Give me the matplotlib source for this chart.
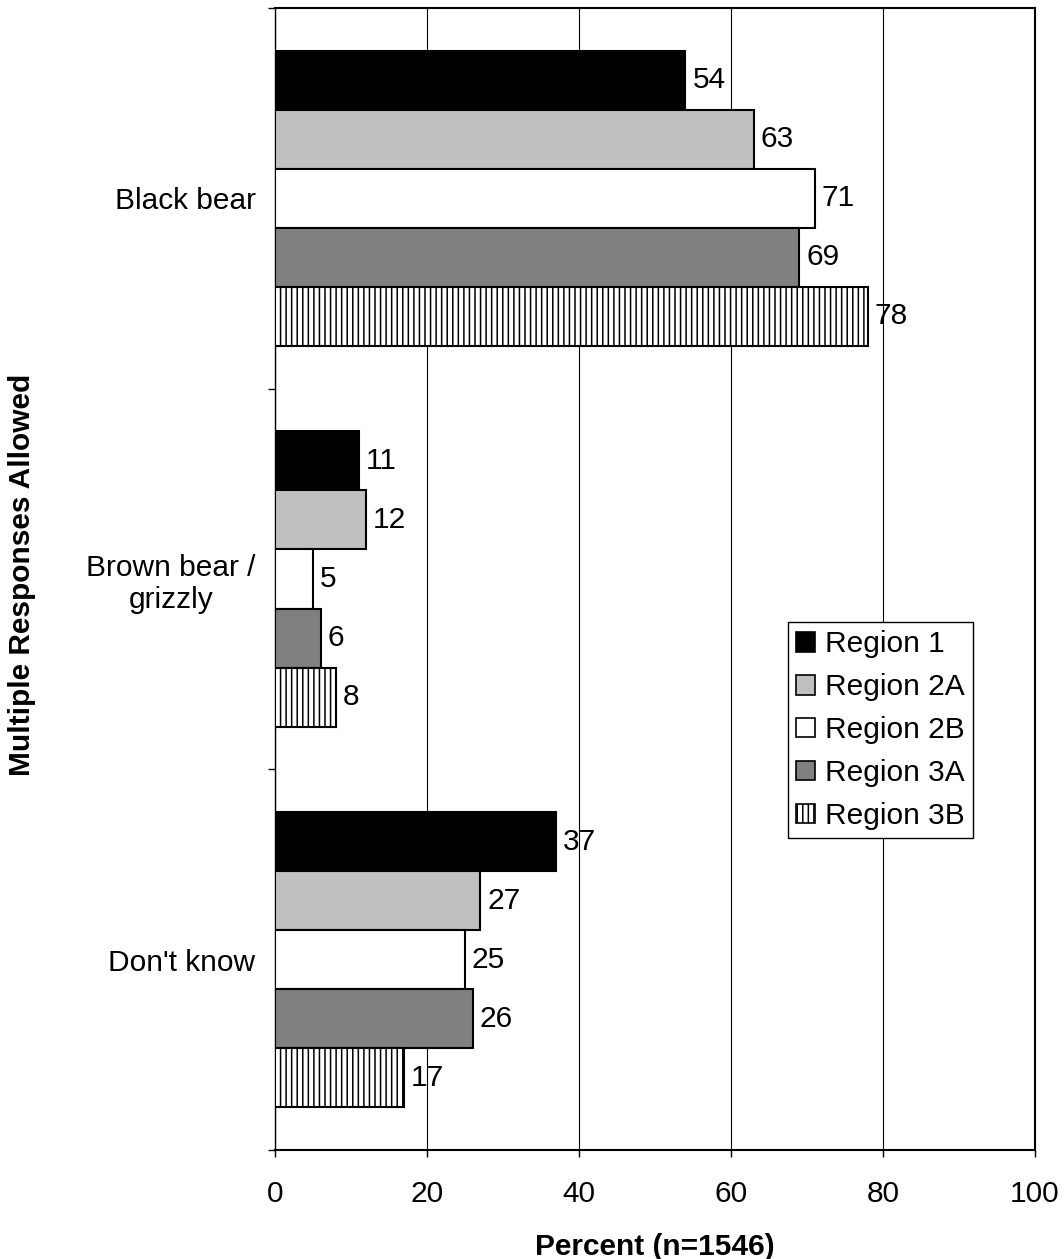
import matplotlib
matplotlib.use("Agg")
import matplotlib.pyplot as plt
from matplotlib.patches import Patch
import numpy as np

plt.rcParams['font.family'] = ['Liberation Sans', 'DejaVu Sans']
plt.rcParams['hatch.linewidth'] = 1.1

categories = ["Black bear", "Brown bear /\ngrizzly", "Don't know"]
series_names = ["Region 1", "Region 2A", "Region 2B", "Region 3A", "Region 3B"]
values = {
    "Region 1":  [54, 11, 37],
    "Region 2A": [63, 12, 27],
    "Region 2B": [71, 5, 25],
    "Region 3A": [69, 6, 26],
    "Region 3B": [78, 8, 17],
}
x_ticks = [0, 20, 40, 60, 80, 100]
x_label = "Percent (n=1546)"
y_label = "Multiple Responses Allowed"

facecolors = ["#000000", "#c0c0c0", "#ffffff", "#808080", "#ffffff"]
hatches = [None, None, None, None, "|||"]

fig = plt.figure(figsize=(10.64, 12.59), dpi=100)
ax = fig.add_axes([275/1064, 1-1150/1259, 760/1064, 1142/1259])

h = 0.155
cat_pos = np.arange(len(categories))
for i, name in enumerate(series_names):
    ys = cat_pos + (i - 2) * h
    bars = ax.barh(ys, values[name], height=h, color=facecolors[i],
                   edgecolor="black", linewidth=1.5, hatch=hatches[i], zorder=3)
    for b, v in zip(bars, values[name]):
        ax.annotate(f"{v}", xy=(b.get_width(), b.get_y() + b.get_height()/2),
                    xytext=(5, 0), textcoords="offset points",
                    ha="left", va="center", fontsize=21.5, zorder=4)

ax.set_xlim(0, 100)
ax.set_ylim(2.5, -0.5)
ax.set_xticks(x_ticks)
ax.set_xticklabels([str(t) for t in x_ticks], fontsize=21.5)
ax.tick_params(axis="x", direction="out", length=5, width=1, pad=16.5)
ax.grid(axis="x", color="black", linewidth=0.8, zorder=0)

ax.set_yticks(cat_pos)
ax.set_yticklabels(categories, fontsize=21.5, multialignment="center")
ax.tick_params(axis="y", which="major", length=0, pad=14)
ax.set_yticks([-0.5, 0.5, 1.5, 2.5], minor=True)
ax.tick_params(axis="y", which="minor", direction="out", length=5, width=1)

for s in ax.spines.values():
    s.set_linewidth(1.5)
    s.set_color("black")
ax.spines["left"].set_linewidth(1.0)

ax.set_xlabel(x_label, fontsize=21.5, fontweight="bold", labelpad=18)
fig.text(22/1064, 1-575/1259, y_label, rotation=90, fontsize=21.5, fontweight="bold",
         ha="center", va="center")

handles = [Patch(facecolor=facecolors[i], edgecolor="black", linewidth=1.2,
                 hatch=hatches[i]) for i in range(len(series_names))]
leg = ax.legend(handles, series_names, loc="upper left",
                bbox_to_anchor=(788/1064, 1-622/1259), bbox_transform=fig.transFigure,
                fontsize=21.5, frameon=True, fancybox=False, framealpha=1,
                edgecolor="black", handlelength=0.63, handleheight=0.63,
                handletextpad=0.33, labelspacing=0.5, borderpad=0.28,
                borderaxespad=0)
leg.get_frame().set_linewidth(1.0)
leg.set_zorder(5)

fig.savefig("out.png", dpi=100)
